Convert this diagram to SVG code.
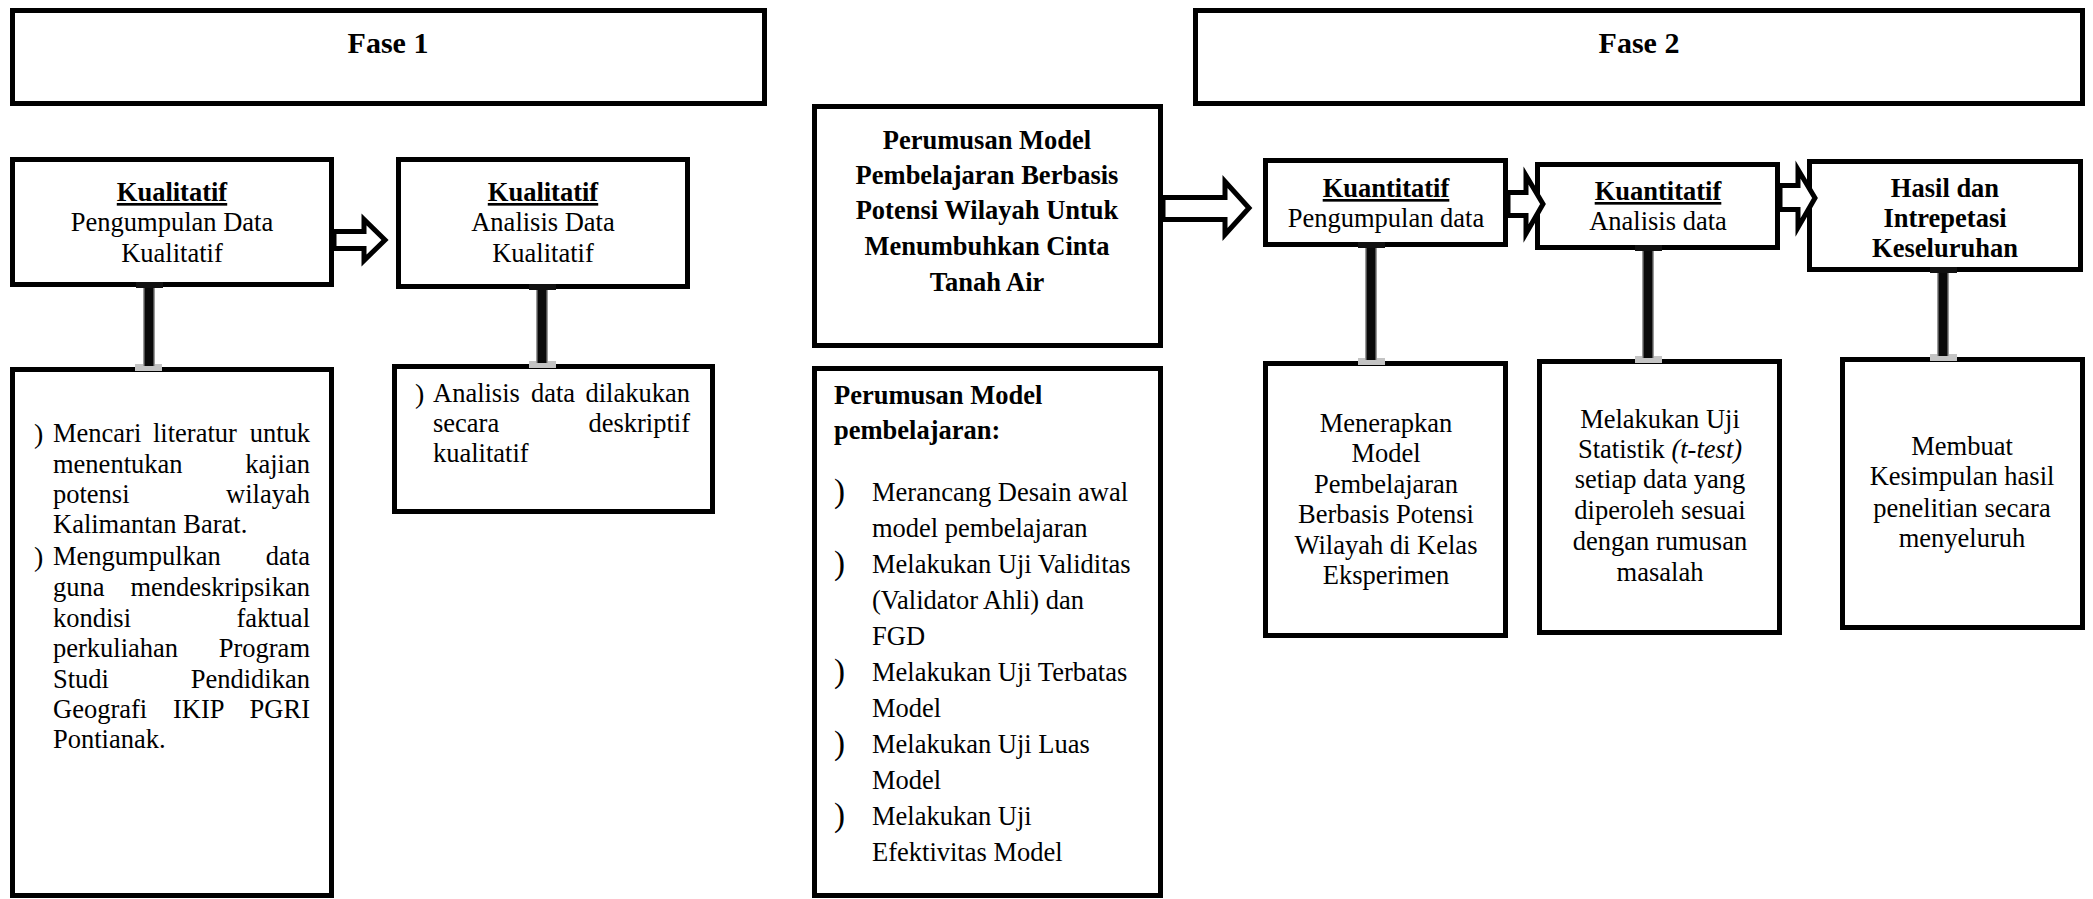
<svg xmlns="http://www.w3.org/2000/svg" width="2093" height="899" viewBox="0 0 2093 899">
<style>
.box{fill:#fff;stroke:#000;stroke-width:5}
.t{font-family:"Liberation Serif","Times New Roman",serif;font-size:26.5px;fill:#000}
.b{font-weight:bold}
.c{text-anchor:middle}
.e{text-anchor:end}
.u{text-decoration:underline}
.h{font-size:30px;font-weight:bold}
.bul{font-family:"Liberation Serif","Times New Roman",serif;font-size:28px;fill:#000}
.bul2{font-family:"Liberation Serif","Times New Roman",serif;font-size:33px;fill:#000}
.arrow{fill:#fff;stroke:#000;stroke-width:5;stroke-linejoin:miter}
.conn{stroke:#0a0a0a;stroke-width:9}
.connb{stroke:#9a9a9a;stroke-width:12}
.capt{fill:#111}
.capb{fill:#c4c4c4}
</style>
<rect width="2093" height="899" fill="#fff"/>

<g id="fase1">
<rect class="box" x="12.5" y="10.5" width="752" height="93"/>
<text class="t h c" x="388" y="53">Fase 1</text>
</g>
<g id="fase2">
<rect class="box" x="1195.5" y="10.5" width="887" height="93"/>
<text class="t h c" x="1639" y="53">Fase 2</text>
</g>

<g id="kual-pengumpulan">
<rect class="box" x="12.5" y="159.5" width="319" height="125"/>
<text class="t b c u" x="172" y="201">Kualitatif</text>
<text class="t c" x="172" y="231">Pengumpulan Data</text>
<text class="t c" x="172" y="262">Kualitatif</text>
</g>
<g id="kual-analisis">
<rect class="box" x="398.5" y="159.5" width="289" height="127"/>
<text class="t b c u" x="543" y="201">Kualitatif</text>
<text class="t c" x="543" y="231">Analisis Data</text>
<text class="t c" x="543" y="262">Kualitatif</text>
</g>

<g id="kual-detail1">
<rect class="box" x="12.5" y="369.5" width="319" height="526"/>
<text class="bul" x="34" y="443">)</text>
<text class="bul" x="34" y="566">)</text>
<text class="t" x="53" y="442">Mencari</text><text class="t" x="153" y="442">literatur</text><text class="t e" x="310" y="442">untuk</text>
<text class="t" x="53" y="473">menentukan</text><text class="t e" x="310" y="473">kajian</text>
<text class="t" x="53" y="503">potensi</text><text class="t e" x="310" y="503">wilayah</text>
<text class="t" x="53" y="533">Kalimantan Barat.</text>
<text class="t" x="53" y="565">Mengumpulkan</text><text class="t e" x="310" y="565">data</text>
<text class="t" x="53" y="596">guna</text><text class="t e" x="310" y="596">mendeskripsikan</text>
<text class="t" x="53" y="627">kondisi</text><text class="t e" x="310" y="627">faktual</text>
<text class="t" x="53" y="657">perkuliahan</text><text class="t e" x="310" y="657">Program</text>
<text class="t" x="53" y="688">Studi</text><text class="t e" x="310" y="688">Pendidikan</text>
<text class="t" x="53" y="718">Geografi</text><text class="t" x="173" y="718">IKIP</text><text class="t e" x="310" y="718">PGRI</text>
<text class="t" x="53" y="748">Pontianak.</text>
</g>

<g id="kual-detail2">
<rect class="box" x="394.5" y="366.5" width="318" height="145"/>
<text class="bul" x="415" y="403">)</text>
<text class="t" x="433" y="402">Analisis</text><text class="t" x="531" y="402">data</text><text class="t e" x="690" y="402">dilakukan</text>
<text class="t" x="433" y="432">secara</text><text class="t e" x="690" y="432">deskriptif</text>
<text class="t" x="433" y="462">kualitatif</text>
</g>

<g id="perumusan">
<rect class="box" x="814.5" y="106.5" width="346" height="239"/>
<text class="t b c" x="987" y="149">Perumusan Model</text>
<text class="t b c" x="987" y="184">Pembelajaran Berbasis</text>
<text class="t b c" x="987" y="219">Potensi Wilayah Untuk</text>
<text class="t b c" x="987" y="255">Menumbuhkan Cinta</text>
<text class="t b c" x="987" y="291">Tanah Air</text>
</g>

<g id="perumusan-detail">
<rect class="box" x="814.5" y="368.5" width="346" height="527"/>
<text class="t b" x="834" y="404">Perumusan Model</text>
<text class="t b" x="834" y="439">pembelajaran:</text>
<text class="bul2" x="834" y="502">)</text>
<text class="bul2" x="834" y="574">)</text>
<text class="bul2" x="834" y="682">)</text>
<text class="bul2" x="834" y="754">)</text>
<text class="bul2" x="834" y="826">)</text>
<text class="t" x="872" y="501">Merancang Desain awal</text>
<text class="t" x="872" y="537">model pembelajaran</text>
<text class="t" x="872" y="573">Melakukan Uji Validitas</text>
<text class="t" x="872" y="609">(Validator Ahli) dan</text>
<text class="t" x="872" y="645">FGD</text>
<text class="t" x="872" y="681">Melakukan Uji Terbatas</text>
<text class="t" x="872" y="717">Model</text>
<text class="t" x="872" y="753">Melakukan Uji Luas</text>
<text class="t" x="872" y="789">Model</text>
<text class="t" x="872" y="825">Melakukan Uji</text>
<text class="t" x="872" y="861">Efektivitas Model</text>
</g>

<g id="kuan-pengumpulan">
<rect class="box" x="1265.5" y="160.5" width="240" height="84"/>
<text class="t b c u" x="1386" y="197">Kuantitatif</text>
<text class="t c" x="1386" y="227">Pengumpulan data</text>
</g>
<g id="kuan-analisis">
<rect class="box" x="1537.5" y="164.5" width="240" height="83"/>
<text class="t b c u" x="1658" y="200">Kuantitatif</text>
<text class="t c" x="1658" y="230">Analisis data</text>
</g>
<g id="hasil">
<rect class="box" x="1809.5" y="161.5" width="271" height="108"/>
<text class="t b c" x="1945" y="197">Hasil dan</text>
<text class="t b c" x="1945" y="227">Intrepetasi</text>
<text class="t b c" x="1945" y="257">Keseluruhan</text>
</g>

<g id="menerapkan">
<rect class="box" x="1265.5" y="363.5" width="240" height="272"/>
<text class="t c" x="1386" y="432">Menerapkan</text>
<text class="t c" x="1386" y="462">Model</text>
<text class="t c" x="1386" y="493">Pembelajaran</text>
<text class="t c" x="1386" y="523">Berbasis Potensi</text>
<text class="t c" x="1386" y="554">Wilayah di Kelas</text>
<text class="t c" x="1386" y="584">Eksperimen</text>
</g>
<g id="uji-statistik">
<rect class="box" x="1539.5" y="361.5" width="240" height="271"/>
<text class="t c" x="1660" y="428">Melakukan Uji</text>
<text class="t c" x="1660" y="458">Statistik <tspan font-style="italic">(t-test)</tspan></text>
<text class="t c" x="1660" y="488">setiap data yang</text>
<text class="t c" x="1660" y="519">diperoleh sesuai</text>
<text class="t c" x="1660" y="550">dengan rumusan</text>
<text class="t c" x="1660" y="581">masalah</text>
</g>
<g id="membuat">
<rect class="box" x="1842.5" y="359.5" width="240" height="268"/>
<text class="t c" x="1962" y="455">Membuat</text>
<text class="t c" x="1962" y="485">Kesimpulan hasil</text>
<text class="t c" x="1962" y="517">penelitian secara</text>
<text class="t c" x="1962" y="547">menyeluruh</text>
</g>

<g id="connectors">
<polygon class="arrow" points="334,231.5 364,231.5 364,219.5 385,240 364,260.5 364,248.5 334,248.5"/>
<polygon class="arrow" points="1163,197.5 1225,197.5 1225,181.5 1249,208 1225,234.5 1225,219.5 1163,219.5"/>
<polygon class="arrow" points="1508,192.5 1526,192.5 1526,175.5 1543,204 1526,233.5 1526,215.5 1508,215.5"/>
<polygon class="arrow" points="1780,185.5 1798,185.5 1798,169.5 1815,198 1798,227.5 1798,209.5 1780,209.5"/>

<rect class="capb" x="135" y="364" width="27" height="7"/>
<rect class="capb" x="529" y="361" width="27" height="7"/>
<rect class="capb" x="1358" y="358" width="27" height="7"/>
<rect class="capb" x="1635" y="356" width="27" height="7"/>
<rect class="capb" x="1930" y="354" width="27" height="7"/>

<line class="connb" x1="149" y1="287" x2="149" y2="366"/>
<line class="conn" x1="149" y1="287" x2="149" y2="366"/>
<line class="connb" x1="542" y1="289" x2="542" y2="363"/>
<line class="conn" x1="542" y1="289" x2="542" y2="363"/>
<line class="connb" x1="1371" y1="247" x2="1371" y2="360"/>
<line class="conn" x1="1371" y1="247" x2="1371" y2="360"/>
<line class="connb" x1="1648" y1="250" x2="1648" y2="358"/>
<line class="conn" x1="1648" y1="250" x2="1648" y2="358"/>
<line class="connb" x1="1943" y1="272" x2="1943" y2="356"/>
<line class="conn" x1="1943" y1="272" x2="1943" y2="356"/>

<rect class="capt" x="136" y="282" width="27" height="6"/>
<rect class="capt" x="529" y="284" width="27" height="6"/>
<rect class="capt" x="1358" y="242" width="27" height="6"/>
<rect class="capt" x="1635" y="245" width="27" height="6"/>
<rect class="capt" x="1930" y="267" width="27" height="6"/>
</g>
</svg>
